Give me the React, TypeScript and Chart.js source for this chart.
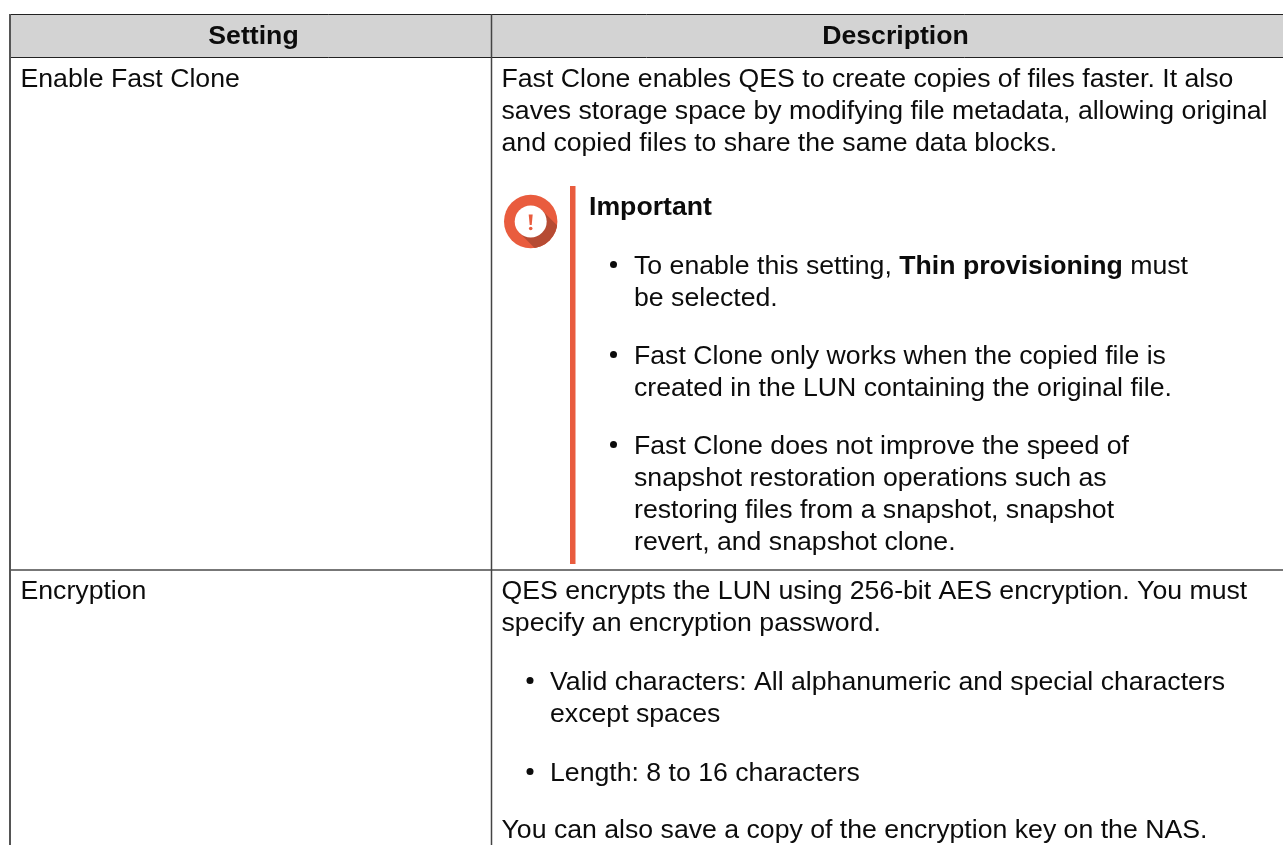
import React, { useEffect, useRef } from "react";
import { Chart, registerables } from "chart.js";

Chart.register(...registerables);

// Content (text only)
const headers = ["Setting", "Description"];
const settings = ["Enable Fast Clone", "Encryption"];
const fastCloneIntro = [
  "Fast Clone enables QES to create copies of files faster. It also",
  "saves storage space by modifying file metadata, allowing original",
  "and copied files to share the same data blocks.",
];
const noteTitle = "Important";
const noteBullets = [
  ["To enable this setting, |Thin provisioning| must", "be selected."],
  ["Fast Clone only works when the copied file is", "created in the LUN containing the original file."],
  ["Fast Clone does not improve the speed of", "snapshot restoration operations such as", "restoring files from a snapshot, snapshot", "revert, and snapshot clone."],
];
const encryptionIntro = [
  "QES encrypts the LUN using 256-bit AES encryption. You must",
  "specify an encryption password.",
];
const encryptionBullets = [
  ["Valid characters: All alphanumeric and special characters", "except spaces"],
  ["Length: 8 to 16 characters"],
];
const encryptionOutro = ["You can also save a copy of the encryption key on the NAS."];

// Layout (separate from the content)
const W = 1283;
const H = 845;
const FONT = '"Liberation Sans", Arial, sans-serif';
const SIZE = 26.67;
const LINE = 32;

const tablePlugin = {
  id: "table",
  afterDraw(chart: any) {
    const { ctx } = chart;
    const X = (v: number) => chart.scales.x.getPixelForValue(v);
    const Y = (v: number) => chart.scales.y.getPixelForValue(v);
    const left = 10, mid = 491.5, top = 14, headBottom = 57, rowLine = 570;

    ctx.save();
    ctx.fillStyle = "#ffffff";
    ctx.fillRect(X(0), Y(0), W, H);

    // header band
    ctx.fillStyle = "#d3d3d3";
    ctx.fillRect(X(left), Y(top), W - left, headBottom - top);

    // rules
    const rule = (x1: number, y1: number, x2: number, y2: number, c: string, w: number) => {
      ctx.strokeStyle = c;
      ctx.lineWidth = w;
      ctx.beginPath();
      ctx.moveTo(X(x1), Y(y1));
      ctx.lineTo(X(x2), Y(y2));
      ctx.stroke();
    };
    rule(left, top + 0.5, W, top + 0.5, "#222222", 1);
    rule(left, headBottom + 0.5, W, headBottom + 0.5, "#222222", 1);
    rule(left, rowLine, W, rowLine, "#777777", 2);
    rule(left, top, left, H, "#555555", 2);
    rule(mid, top, mid, H, "#444444", 1.5);

    ctx.textBaseline = "alphabetic";
    const text = (s: string, x: number, y: number, bold = false, align: CanvasTextAlign = "left") => {
      ctx.font = `${bold ? "bold " : ""}${SIZE}px ${FONT}`;
      ctx.textAlign = align;
      ctx.fillStyle = "#0c0c0c";
      ctx.fillText(s, X(x), Y(y));
    };
    // a line with |bold| runs
    const rich = (s: string, x: number, y: number) => {
      let cur = x;
      s.split("|").forEach((part, i) => {
        const bold = i % 2 === 1;
        ctx.font = `${bold ? "bold " : ""}${SIZE}px ${FONT}`;
        text(part, cur, y, bold);
        cur += ctx.measureText(part).width;
      });
    };
    const bullet = (x: number, y: number) => {
      ctx.fillStyle = "#0c0c0c";
      ctx.beginPath();
      ctx.arc(X(x), Y(y - 9.5), 3.5, 0, Math.PI * 2);
      ctx.fill();
    };
    const block = (lines: string[], x: number, y: number) =>
      lines.forEach((l, i) => rich(l, x, y + i * LINE));

    // headers
    text(headers[0], 253.5, 44, true, "center");
    text(headers[1], 895.5, 44, true, "center");

    // setting names
    text(settings[0], 20.5, 87);
    text(settings[1], 20.5, 599);

    // description cells
    const colX = 501.5;
    block(fastCloneIntro, colX, 87);
    block(encryptionIntro, colX, 599);
    block(encryptionOutro, colX, 838);

    // note
    text(noteTitle, 589, 215, true);
    const noteY = [274, 364, 454];
    noteBullets.forEach((b, i) => {
      bullet(613.5, noteY[i]);
      block(b, 634, noteY[i]);
    });
    const encY = [690, 781];
    encryptionBullets.forEach((b, i) => {
      bullet(530, encY[i]);
      block(b, 550, encY[i]);
    });

    // note bar
    ctx.fillStyle = "#e95c3e";
    ctx.fillRect(X(570), Y(186), 5.5, 378);

    // note icon
    const cx = X(530.7), cy = Y(221.5), r = 26.7, ir = 16;
    ctx.beginPath();
    ctx.arc(cx, cy, r, 0, Math.PI * 2);
    ctx.fillStyle = "#e95c3e";
    ctx.fill();
    ctx.save();
    ctx.beginPath();
    ctx.arc(cx, cy, r, 0, Math.PI * 2);
    ctx.clip();
    ctx.beginPath();
    const d = ir * Math.SQRT1_2;
    ctx.moveTo(cx + d, cy - d);
    ctx.lineTo(cx + d + 40, cy - d + 40);
    ctx.lineTo(cx - d + 40, cy + d + 40);
    ctx.lineTo(cx - d, cy + d);
    ctx.closePath();
    ctx.fillStyle = "#b64b33";
    ctx.fill();
    ctx.restore();
    ctx.beginPath();
    ctx.arc(cx, cy, ir, 0, Math.PI * 2);
    ctx.fillStyle = "#ffffff";
    ctx.fill();
    ctx.fillStyle = "#e95c3e";
    ctx.beginPath();
    ctx.moveTo(cx - 2, cy - 7);
    ctx.lineTo(cx + 2, cy - 7);
    ctx.lineTo(cx + 1, cy + 3.5);
    ctx.lineTo(cx - 1, cy + 3.5);
    ctx.closePath();
    ctx.fill();
    ctx.beginPath();
    ctx.arc(cx, cy + 7, 1.8, 0, Math.PI * 2);
    ctx.fill();
    ctx.restore();
  },
};

export default function App() {
  const ref = useRef<HTMLCanvasElement>(null);
  useEffect(() => {
    const chart = new Chart(ref.current!, {
      type: "scatter",
      data: { datasets: [] },
      options: {
        animation: false,
        responsive: false,
        layout: { padding: 0 },
        plugins: { legend: { display: false }, tooltip: { enabled: false } },
        scales: {
          x: { type: "linear", min: 0, max: W, display: false },
          y: { type: "linear", min: 0, max: H, reverse: true, display: false },
        },
      },
      plugins: [tablePlugin],
    });
    return () => chart.destroy();
  }, []);
  return (
    <canvas
      ref={ref}
      width={W}
      height={H}
      style={{ position: "fixed", left: 0, top: 0, display: "block", width: W, height: H }}
    />
  );
}
